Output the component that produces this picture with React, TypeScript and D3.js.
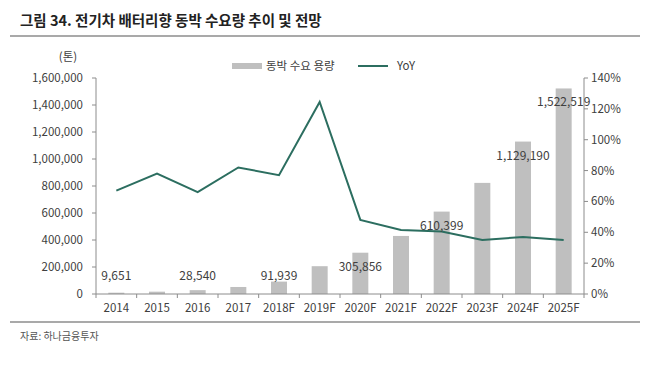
import React from 'react'
import * as d3 from 'd3'

const years = ['2014', '2015', '2016', '2017', '2018F', '2019F', '2020F', '2021F', '2022F', '2023F', '2024F', '2025F']
const demand = [9651, 17200, 28540, 52000, 91939, 206000, 305856, 430000, 610399, 823000, 1129190, 1522519]
const yoy = [67, 78, 66, 82, 77, 124.5, 48, 41.5, 40.5, 35, 37, 35]
const labelled = ['2014', '2016', '2018F', '2020F', '2022F', '2024F', '2025F']
const leftTicks = [0, 200000, 400000, 600000, 800000, 1000000, 1200000, 1400000, 1600000]
const rightTicks = [0, 20, 40, 60, 80, 100, 120, 140]

const font = "'Noto Sans CJK KR', 'Noto Sans', sans-serif"
const txt = '#404040'
const axisCol = '#8c8c8c'

export default function App() {
  const W = 647
  const H = 372
  const left = 96
  const right = 584
  const top = 78
  const bottom = 294

  const x = d3.scaleBand().domain(years).range([left, right])
  const yL = d3.scaleLinear().domain([0, 1600000]).range([bottom, top])
  const yR = d3.scaleLinear().domain([0, 140]).range([bottom, top])
  const fmt = d3.format(',')
  const barW = 16

  const line = d3
    .line<number>()
    .x((_, i) => (x(years[i]) as number) + x.bandwidth() / 2)
    .y((d) => yR(d))

  return (
    <div style={{ position: 'absolute', left: 0, top: 0 }}>
      <svg width={W} height={H} style={{ display: 'block', background: '#fff' }} fontFamily={font}>
        <text x={20} y={26} fontSize={14.5} fontWeight={700} fill="#222">
          그림 34. 전기차 배터리향 동박 수요량 추이 및 전망
        </text>
        <line x1={10} x2={640} y1={36} y2={36} stroke="#555" strokeWidth={1.2} />

        <text x={68} y={61} fontSize={11.5} fill={txt} textAnchor="middle">(톤)</text>

        {/* legend */}
        <rect x={232} y={63} width={30} height={6} fill="#bfbfbf" />
        <text x={266} y={70} fontSize={11.5} fill={txt}>동박 수요 용량</text>
        <line x1={358} x2={388} y1={66} y2={66} stroke="#2c6e60" strokeWidth={2} />
        <text x={397} y={70} fontSize={11.5} fill={txt}>YoY</text>

        {/* bars */}
        {years.map((yr, i) => (
          <rect
            key={yr}
            x={(x(yr) as number) + x.bandwidth() / 2 - barW / 2}
            y={yL(demand[i])}
            width={barW}
            height={bottom - yL(demand[i])}
            fill="#bfbfbf"
          />
        ))}

        {/* left axis */}
        <line x1={left} x2={left} y1={top} y2={bottom} stroke={axisCol} />
        {leftTicks.map((t) => (
          <g key={t}>
            <line x1={left - 4} x2={left} y1={yL(t)} y2={yL(t)} stroke={axisCol} />
            <text x={left - 13} y={yL(t) + 4} fontSize={11.5} fill={txt} textAnchor="end">
              {fmt(t)}
            </text>
          </g>
        ))}

        {/* right axis */}
        <line x1={right} x2={right} y1={top} y2={bottom} stroke={axisCol} />
        {rightTicks.map((t) => (
          <g key={t}>
            <line x1={right} x2={right + 4} y1={yR(t)} y2={yR(t)} stroke={axisCol} />
            <text x={right + 7} y={yR(t) + 4} fontSize={11.5} fill={txt}>
              {t}%
            </text>
          </g>
        ))}

        {/* x axis */}
        <line x1={left} x2={right} y1={bottom} y2={bottom} stroke={axisCol} />
        {years.map((yr) => (
          <g key={yr}>
            <line x1={x(yr) as number} x2={x(yr) as number} y1={bottom} y2={bottom + 4} stroke={axisCol} />
            <text x={(x(yr) as number) + x.bandwidth() / 2} y={bottom + 18} fontSize={11.5} fill={txt} textAnchor="middle">
              {yr}
            </text>
          </g>
        ))}
        <line x1={right} x2={right} y1={bottom} y2={bottom + 4} stroke={axisCol} />

        {/* yoy line */}
        <path d={line(yoy) || ''} fill="none" stroke="#2c6e60" strokeWidth={2} />

        {/* data labels */}
        {years.map((yr, i) =>
          labelled.includes(yr) ? (
            <text
              key={yr}
              x={(x(yr) as number) + x.bandwidth() / 2}
              y={Math.min(yL(demand[i]) + 14, 276) + 4}
              fontSize={12}
              fill={txt}
              textAnchor="middle"
            >
              {fmt(demand[i])}
            </text>
          ) : null
        )}

        <line x1={10} x2={640} y1={322} y2={322} stroke="#555" strokeWidth={1.2} />
        <text x={20} y={340} fontSize={10} fill="#555">자료: 하나금융투자</text>
      </svg>
    </div>
  )
}
